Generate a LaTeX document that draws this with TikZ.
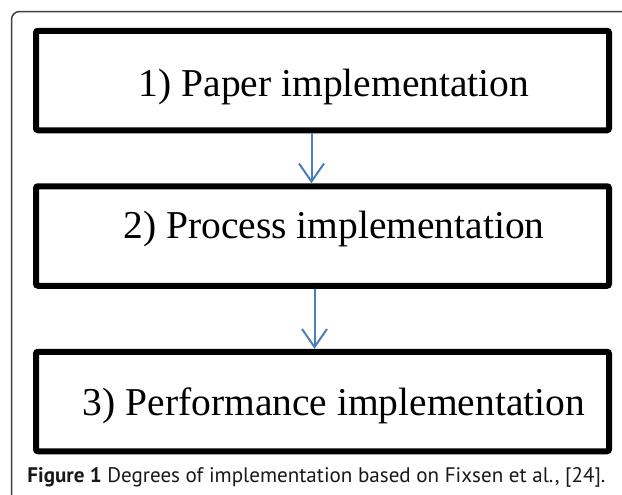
\documentclass[tikz,border=0pt]{standalone}
\usepackage{fontspec}
\usepackage{graphicx}
\setmainfont{Liberation Serif}
\newfontfamily\capfont{PT Sans}
\usetikzlibrary{arrows.meta}
\definecolor{flowblue}{RGB}{74,126,187}
\begin{document}
\begin{tikzpicture}[
		x=0.5pt, y=-0.5pt,
		box/.style = {draw, line width=3pt, rounded corners=1pt, minimum width=286.5pt, minimum height=49.75pt, inner sep=0pt},
		lbl/.style = {anchor=base, inner sep=0pt, font=\fontsize{19.75}{22}\selectfont},
		flow/.style = {-{Straight Barb[length=9pt,width=12.5pt]}, flowblue, line width=1pt},
	]
	\path[use as bounding box] (0,0) rectangle (622,494);
	% frame of the figure
	\draw[line width=0.75pt, black!75, rounded corners=4pt] (11.5,520) -- (11.5,11.5) -- (650,11.5);
	% the three degrees
	\node[box] (paper) at (322.5,80.5) {};
	\node[box] (process) at (322.5,236) {};
	\node[box] (performance) at (322.5,401.5) {};
	\node[lbl] (paperlbl) at (334,96) {1) Paper implementation};
	\node[lbl] (processlbl) at (334,238) {2) Process implementation};
	\node[lbl] (performancelbl) at (334,415) {3) Performance implementation};
	\draw[flow] ([xshift=-5.5pt]paper.south) -- ([xshift=-5.5pt]process.north);
	\draw[flow] ([xshift=-4pt]process.south) -- ([xshift=-4pt]performance.north);
	% caption
	\node[anchor=base west, inner sep=0pt, font=\capfont\fontsize{10}{12}\selectfont, text=black!90] (caption) at (27,482) {\resizebox{289pt}{!}{\textbf{Figure 1} Degrees of implementation based on Fixsen et al., [24].}};
\end{tikzpicture}
\end{document}
